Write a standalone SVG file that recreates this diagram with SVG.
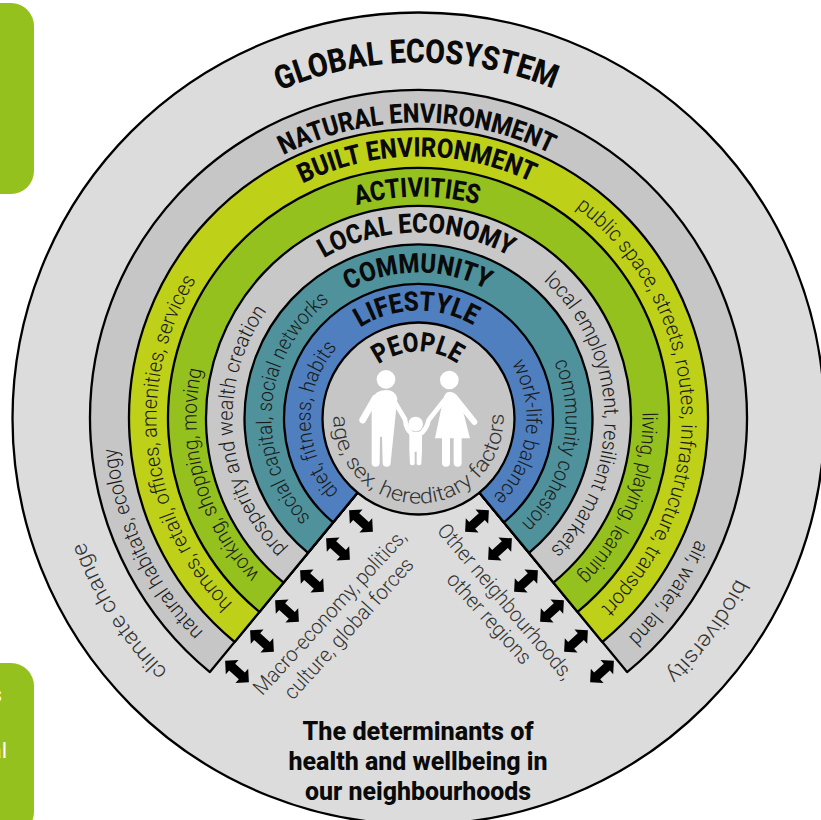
<svg xmlns="http://www.w3.org/2000/svg" width="821" height="820" viewBox="0 0 821 820">
<style>
text{font-family:Roboto,"Liberation Sans",sans-serif}
.h{font-weight:800;fill:#0a0a0a;text-anchor:middle;font-size:27px}
.s{font-weight:350;fill:#1a1a1a;text-anchor:middle;font-size:21px}
.o{font-weight:350;fill:#333;text-anchor:middle;font-size:21px}
.ring{stroke:#000;stroke-width:2.3;stroke-linejoin:round}
.w{fill:#fff;stroke:none}
.wl{fill:none;stroke:#fff;stroke-linecap:round}
.t{font-weight:800;fill:#0a0a0a;text-anchor:middle;font-size:26px}
</style>
<defs>
<path id="r356" d="M418.5 774.5A356 356 0 1 1 418.5 62.5A356 356 0 1 1 418.5 774.5"/>
<path id="r303" d="M418.5 721.5A303 303 0 1 1 418.5 115.5A303 303 0 1 1 418.5 721.5"/>
<path id="r296" d="M418.5 714.5A296 296 0 1 1 418.5 122.5A296 296 0 1 1 418.5 714.5"/>
<path id="r263" d="M418.5 681.5A263 263 0 1 1 418.5 155.5A263 263 0 1 1 418.5 681.5"/>
<path id="r262" d="M418.5 680.5A262 262 0 1 1 418.5 156.5A262 262 0 1 1 418.5 680.5"/>
<path id="r224" d="M418.5 642.5A224 224 0 1 1 418.5 194.5A224 224 0 1 1 418.5 642.5"/>
<path id="r222" d="M418.5 640.5A222 222 0 1 1 418.5 196.5A222 222 0 1 1 418.5 640.5"/>
<path id="r186" d="M418.5 604.5A186 186 0 1 1 418.5 232.5A186 186 0 1 1 418.5 604.5"/>
<path id="r147" d="M418.5 565.5A147 147 0 1 1 418.5 271.5A147 147 0 1 1 418.5 565.5"/>
<path id="r146" d="M418.5 564.5A146 146 0 1 1 418.5 272.5A146 146 0 1 1 418.5 564.5"/>
<path id="r108" d="M418.5 526.5A108 108 0 1 1 418.5 310.5A108 108 0 1 1 418.5 526.5"/>
<path id="r67" d="M418.5 485.5A67 67 0 1 1 418.5 351.5A67 67 0 1 1 418.5 485.5"/>
<path id="c85" d="M418.5 333.5A85 85 0 1 0 418.5 503.5A85 85 0 1 0 418.5 333.5"/>
<polygon id="arrow" points="-16,0 -6.5,-9.5 -6.5,-4.5 6.5,-4.5 6.5,-9.5 16,0 6.5,9.5 6.5,4.5 -6.5,4.5 -6.5,9.5"/>
</defs>
<g id="side-panels">
<rect x="-40" y="3" width="74" height="191" rx="23" fill="#95c11f"/>
<rect x="-40" y="663" width="74" height="172" rx="23" fill="#95c11f"/>
<text x="2" y="702" text-anchor="end" font-size="22" fill="#fff">s</text>
<text x="7" y="758" text-anchor="end" font-size="22" fill="#fff">al</text>
</g>
<g id="global-ecosystem">
<circle cx="418.5" cy="418.5" r="406" fill="#dcdcdc" stroke="#000" stroke-width="2.3"/>
<text class="h" style="font-size:33px"><textPath href="#r356" startOffset="49.9%" textLength="281" lengthAdjust="spacingAndGlyphs">GLOBAL ECOSYSTEM</textPath></text>
<text class="o" style="font-size:22px"><textPath href="#r356" startOffset="15.9%" textLength="155" lengthAdjust="spacingAndGlyphs">climate change</textPath></text>
<text class="o" style="font-size:22px"><textPath href="#r356" startOffset="85.1%" textLength="120" lengthAdjust="spacingAndGlyphs">biodiversity</textPath></text>
</g>
<g id="natural-environment">
<path class="ring" fill="#c6c6c6" d="M418.5 418.5L209.9 672.1A328.5 328.5 0 1 1 627.1 672.1Z"/>
<text class="h"><textPath href="#r296" startOffset="49.9%" textLength="277" lengthAdjust="spacingAndGlyphs">NATURAL ENVIRONMENT</textPath></text>
<text class="s"><textPath href="#r303" startOffset="18%" textLength="207" lengthAdjust="spacingAndGlyphs">natural habitats, ecology</textPath></text>
<text class="s"><textPath href="#r303" startOffset="84.7%" textLength="120" lengthAdjust="spacingAndGlyphs">air, water, land</textPath></text>
</g>
<g id="built-environment">
<path class="ring" fill="#bfd019" d="M418.5 418.5L234.7 642A289.5 289.5 0 1 1 602.3 642Z"/>
<text class="h"><textPath href="#r262" startOffset="49.9%" textLength="237" lengthAdjust="spacingAndGlyphs">BUILT ENVIRONMENT</textPath></text>
<text class="s"><textPath href="#r262" startOffset="23.2%" textLength="351" lengthAdjust="spacingAndGlyphs">homes, retail, offices, amenities, services</textPath></text>
<text class="s"><textPath href="#r263" startOffset="74%" textLength="456" lengthAdjust="spacingAndGlyphs">public space, streets, routes, infrastructure, transport</textPath></text>
</g>
<g id="activities">
<path class="ring" fill="#95c11f" d="M418.5 418.5L259.4 611.9A250.5 250.5 0 1 1 577.6 611.9Z"/>
<text class="h"><textPath href="#r222" startOffset="49.9%" textLength="123" lengthAdjust="spacingAndGlyphs">ACTIVITIES</textPath></text>
<text class="s"><textPath href="#r222" startOffset="20.6%" textLength="222" lengthAdjust="spacingAndGlyphs">working, shopping, moving</textPath></text>
<text class="s"><textPath href="#r224" startOffset="81%" textLength="181" lengthAdjust="spacingAndGlyphs">living, playing, learning</textPath></text>
</g>
<g id="local-economy">
<path class="ring" fill="#c8c8c8" d="M418.5 418.5L283.6 582.6A212.5 212.5 0 1 1 553.4 582.6Z"/>
<text class="h"><textPath href="#r186" startOffset="49.8%" textLength="194" lengthAdjust="spacingAndGlyphs">LOCAL ECONOMY</textPath></text>
<text class="s"><textPath href="#r186" startOffset="23.7%" textLength="260" lengthAdjust="spacingAndGlyphs">prosperity and wealth creation</textPath></text>
<text class="s"><textPath href="#r186" startOffset="74.6%" textLength="301" lengthAdjust="spacingAndGlyphs">local employment, resilient markets</textPath></text>
</g>
<g id="community">
<path class="ring" fill="#4f929b" d="M418.5 418.5L308 552.8A174 174 0 1 1 529 552.8Z"/>
<text class="h"><textPath href="#r146" startOffset="49.9%" textLength="144" lengthAdjust="spacingAndGlyphs">COMMUNITY</textPath></text>
<text class="s"><textPath href="#r147" startOffset="26.4%" textLength="245" lengthAdjust="spacingAndGlyphs">social capital, social networks</textPath></text>
<text class="s"><textPath href="#r147" startOffset="78.2%" textLength="175" lengthAdjust="spacingAndGlyphs">community cohesion</textPath></text>
</g>
<g id="lifestyle">
<path class="ring" fill="#4f7fbf" d="M418.5 418.5L333.1 522.3A134.5 134.5 0 1 1 503.9 522.3Z"/>
<text class="h"><textPath href="#r108" startOffset="49.7%" textLength="119" lengthAdjust="spacingAndGlyphs">LIFESTYLE</textPath></text>
<text class="s"><textPath href="#r108" startOffset="24.8%" textLength="158" lengthAdjust="spacingAndGlyphs">diet, fitness, habits</textPath></text>
<text class="s"><textPath href="#r108" startOffset="77.2%" textLength="145" lengthAdjust="spacingAndGlyphs">work-life balance</textPath></text>
</g>
<g id="people">
<circle class="ring" cx="418.5" cy="418.5" r="96" fill="#c6c6c6"/>
<text class="h"><textPath href="#r67" startOffset="49.8%" textLength="84" lengthAdjust="spacingAndGlyphs">PEOPLE</textPath></text>
<text class="o"><textPath href="#c85" startOffset="50.2%" textLength="274" lengthAdjust="spacingAndGlyphs">age, sex, hereditary factors</textPath></text>
<g transform="translate(320 330) scale(.3333)">
<circle class="w" cx="198" cy="148" r="28"/>
<circle class="w" cx="388" cy="150" r="28"/>
<circle class="w" cx="287" cy="282" r="22"/>
<path class="w" d="M155 210Q165 180 198 180Q225 180 232 205L220 320L212 398A12 12 0 0 1 188 398L186 320H180L179 398A12 12 0 0 1 155 398Z"/>
<path class="wl" stroke-width="20" d="M165 205L128 270"/>
<path class="wl" stroke-width="14" d="M222 212L255 268Q258 300 278 314"/>
<path class="w" d="M388 185Q412 186 422 215L450 325H425V398A12 12 0 0 1 401 398V325H390V398A12 12 0 0 1 366 398V325H345L368 215Q372 187 388 185Z"/>
<path class="wl" stroke-width="14" d="M372 212L326 270Q320 300 298 314"/>
<path class="wl" stroke-width="18" d="M410 210L463 276"/>
<path class="w" d="M268 305H306V362L304 402A8 8 0 0 1 290 402V365H284V402A8 8 0 0 1 270 402L268 362Z"/>
</g>
</g>
<g id="connectors" fill="#000">
<use href="#arrow" transform="translate(237 671.5) rotate(42)"/>
<use href="#arrow" transform="translate(262 641) rotate(42)"/>
<use href="#arrow" transform="translate(287 611) rotate(42)"/>
<use href="#arrow" transform="translate(312 581) rotate(42)"/>
<use href="#arrow" transform="translate(338 549) rotate(42)"/>
<use href="#arrow" transform="translate(361 521) rotate(42)"/>
<use href="#arrow" transform="translate(602 671.5) rotate(-42)"/>
<use href="#arrow" transform="translate(576 641) rotate(-42)"/>
<use href="#arrow" transform="translate(552 611) rotate(-42)"/>
<use href="#arrow" transform="translate(526 581) rotate(-42)"/>
<use href="#arrow" transform="translate(500 549) rotate(-42)"/>
<use href="#arrow" transform="translate(477 521) rotate(-42)"/>
</g>
<g id="labels">
<text class="o" transform="translate(335 617) rotate(-47.5)" textLength="215" lengthAdjust="spacingAndGlyphs">Macro-economy, politics,</text>
<text class="o" transform="translate(354 633) rotate(-48)" textLength="182" lengthAdjust="spacingAndGlyphs">culture, global forces</text>
<text class="o" transform="translate(500 606) rotate(49.7)" textLength="197" lengthAdjust="spacingAndGlyphs">Other neighbourhoods,</text>
<text class="o" transform="translate(484 623) rotate(48)" textLength="115" lengthAdjust="spacingAndGlyphs">other regions</text>
<text class="t" x="418" y="740" textLength="231" lengthAdjust="spacingAndGlyphs">The determinants of</text>
<text class="t" x="418" y="770" textLength="259" lengthAdjust="spacingAndGlyphs">health and wellbeing in</text>
<text class="t" x="418" y="800" textLength="226" lengthAdjust="spacingAndGlyphs">our neighbourhoods</text>
</g>
</svg>
